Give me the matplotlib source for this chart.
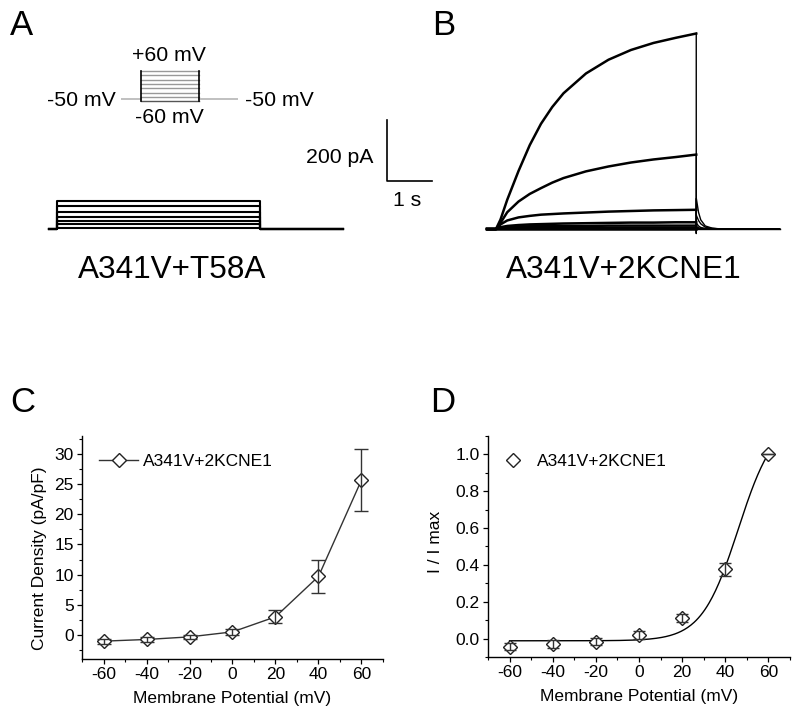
import numpy as np
import matplotlib
matplotlib.use('Agg')
import matplotlib.pyplot as plt
from matplotlib.ticker import MultipleLocator, FormatStrFormatter

plt.rcParams['font.family'] = ['Liberation Sans', 'DejaVu Sans']
plt.rcParams['axes.unicode_minus'] = False

# ---- data ----
# panel A (A341V+T58A): steady current at each step, pA
a_levels = [90, 73, 55, 38, 26, 15, 2]
a_times = [-0.17, 0.0, 4.5, 6.35]  # trace start, step on, step off, trace end (s)

# panel B (A341V+2KCNE1): activating currents, pA
b_step_t = [-0.2, 0.0, 0.1, 0.25, 0.5, 0.75, 1.0, 1.25, 1.5, 2.0, 2.5, 3.0, 3.5, 4.0, 4.45]
b_traces = [
    [0, 0, 31, 96, 190, 275, 345, 400, 445, 510, 555, 587, 610, 627, 641],
    [0, 0, 20, 55, 90, 115, 134, 152, 167, 189, 205, 218, 228, 236, 244],
    [0, 0, 15, 28, 38, 43, 47, 49, 51, 54, 57, 59, 61, 62, 63],
    [0, 0, 6, 10, 13, 15, 16, 17, 18, 19, 20, 21, 21, 22, 22],
    [0, 0, 4, 6, 8, 9, 9, 10, 10, 10, 11, 11, 11, 11, 11],
    [0, 0, 2, 3, 3, 4, 4, 4, 4, 4, 4, 4, 4, 4, 4],
    [0, 0, 0, 0, 0, 0, 0, 0, 0, 0, 0, 0, 0, 0, 0],
]
b_tail_t = [4.45, 4.452, 4.5, 4.55, 4.65, 4.8, 5.0, 6.3]
b_tails = [
    [-15, 100, 55, 30, 10, 3, 0, 0],
    [45, 45, 28, 17, 6, 2, 0, 0],
    [20, 20, 10, 5, 2, 0, 0, 0],
    [8, 8, 4, 2, 0, 0, 0, 0],
    [4, 4, 2, 1, 0, 0, 0, 0],
    [2, 2, 1, 0, 0, 0, 0, 0],
    [0, 0, 0, 0, 0, 0, 0, 0],
]

# voltage protocol (mV)
prot_levels = [-60, -43, -26, -9, 9, 26, 43, 60]
prot_hold = -50
prot_t = [0, 1, 4, 6]

# panels C and D
voltages = [-60, -40, -20, 0, 20, 40, 60]
density = [-1.04, -0.76, -0.33, 0.5, 3.0, 9.7, 25.7]
density_err = [0.4, 0.35, 0.35, 0.45, 1.1, 2.7, 5.1]
norm = [-0.043, -0.030, -0.016, 0.018, 0.11, 0.377, 1.0]
norm_err = [0.02, 0.02, 0.02, 0.022, 0.022, 0.035, 0.0]
# Boltzmann fit
fit_bottom, fit_top, fit_vhalf, fit_slope = -0.012, 1.2, 46.0, 8.5

label = 'A341V+2KCNE1'

W, H = 800, 720
PX_PER_S = 45.0
PX_PER_PA = 61.0 / 200.0


def fx(px):
    return px / W


def fy(py):
    return 1 - py / H


fig = plt.figure(figsize=(8, 7.2), dpi=100)

# ---- panel A traces ----
ax_a = fig.add_axes([0, 0.5, 440 / W, 0.5])
ax_a.set_xlim(-57 / PX_PER_S, (440 - 57) / PX_PER_S)
ax_a.set_ylim(-(360 - 228.5) / PX_PER_PA, 228.5 / PX_PER_PA)
ax_a.axis('off')
t0, t_on, t_off, t_end = a_times
for lev in a_levels:
    ax_a.plot([t0, t_on, t_on, t_off, t_off, t_end], [0, 0, lev, lev, 0, 0],
              color='black', lw=1.5)

# scale bar
sb_x = (387 - 57) / PX_PER_S
sb_y = (228.5 - 181) / PX_PER_PA
ax_a.plot([sb_x, sb_x, sb_x + 1], [sb_y + 200, sb_y, sb_y], color='black',
          lw=1.2, clip_on=False)

# ---- panel B traces ----
ax_b = fig.add_axes([440 / W, 0.5, 360 / W, 0.5])
ax_b.set_xlim(-56 / PX_PER_S, (800 - 496) / PX_PER_S)
ax_b.set_ylim(-(360 - 229) / PX_PER_PA, 229 / PX_PER_PA)
ax_b.axis('off')
for tr, tail in zip(b_traces, b_tails):
    ax_b.plot(b_step_t, tr, color='black', lw=1.8)
    ax_b.plot([b_step_t[-1]] + b_tail_t, [tr[-1]] + tail, color='black', lw=1.0)

# ---- voltage protocol inset ----
ax_p = fig.add_axes([fx(121), fy(105), (238 - 121) / W, 40 / H])
ax_p.set_xlim(prot_t[0], prot_t[-1])
ax_p.set_ylim(-76, 84)
ax_p.axis('off')
ax_p.plot(prot_t[:2], [prot_hold] * 2, color='#bbbbbb', lw=1.3)
ax_p.plot(prot_t[2:], [prot_hold] * 2, color='#bbbbbb', lw=1.3)
for i, lv in enumerate(prot_levels):
    c = '#555555' if i == 0 else '#999999'
    ax_p.plot(prot_t[1:3], [lv, lv], color=c, lw=1.0)
for tt in prot_t[1:3]:
    ax_p.plot([tt, tt], [prot_levels[0], prot_levels[-1]], color='black', lw=1.2)

# ---- text in top row ----
fs_small = 15.3
fig.text(fx(169), fy(60.7), '+60 mV', ha='center', va='baseline', fontsize=fs_small)
fig.text(fx(169), fy(123.3), '-60 mV', ha='center', va='baseline', fontsize=fs_small)
fig.text(fx(116), fy(105.5), '-50 mV', ha='right', va='baseline', fontsize=fs_small)
fig.text(fx(245), fy(105.5), '-50 mV', ha='left', va='baseline', fontsize=fs_small)
fig.text(fx(373), fy(162.7), '200 pA', ha='right', va='baseline', fontsize=fs_small)
fig.text(fx(407), fy(206), '1 s', ha='center', va='baseline', fontsize=fs_small)
fig.text(fx(172), fy(278.3), 'A341V+T58A', ha='center', va='baseline', fontsize=22.7)
fig.text(fx(624), fy(278.3), label, ha='center', va='baseline', fontsize=22.7)

for txt, x, y in [('A', 10, 35), ('B', 432, 35), ('C', 10, 412), ('D', 430, 412)]:
    fig.text(fx(x), fy(y), txt, ha='left', va='baseline', fontsize=25)


def style_axes(ax):
    ax.spines['top'].set_visible(False)
    ax.spines['right'].set_visible(False)
    ax.spines['left'].set_linewidth(1.0)
    ax.spines['bottom'].set_linewidth(1.0)
    ax.tick_params(which='major', direction='out', length=3.5, width=0.9,
                   labelsize=12.5, pad=2.5)
    ax.tick_params(which='minor', direction='out', length=2, width=0.8)
    ax.set_xlim(-70, 70)
    ax.xaxis.set_major_locator(MultipleLocator(20))
    ax.xaxis.set_minor_locator(MultipleLocator(10))
    ax.set_xlabel('Membrane Potential (mV)', fontsize=12.5, labelpad=6)


# ---- panel C ----
ax_c = fig.add_axes([fx(82), fy(659), (383 - 82) / W, (659 - 436) / H])
ax_c.plot(voltages, density, '-', color='#333333', lw=1.0, marker='D', ms=7.5,
          mfc='white', mec='#222222', mew=1.0, label=label, zorder=2)
ax_c.errorbar(voltages, density, yerr=density_err, fmt='none', ecolor='#333333',
              elinewidth=1.0, capsize=5, capthick=1.0, zorder=3)
style_axes(ax_c)
ax_c.set_ylim(-4, 33)
ax_c.yaxis.set_major_locator(MultipleLocator(5))
ax_c.yaxis.set_minor_locator(MultipleLocator(2.5))
ax_c.set_ylabel('Current Density (pA/pF)', fontsize=12.5)
ax_c.yaxis.set_label_coords(-0.116, 0.453)
ax_c.legend(loc='center left', bbox_to_anchor=(0.0565, 0.885), frameon=False,
            fontsize=12.5, handlelength=2.25, handletextpad=0.3,
            borderpad=0, borderaxespad=0)

# ---- panel D ----
ax_d = fig.add_axes([fx(488), fy(657), (790 - 488) / W, (657 - 436) / H])
v_fit = np.linspace(voltages[0], voltages[-1], 241)
i_fit = fit_top + (fit_bottom - fit_top) / (1 + np.exp((v_fit - fit_vhalf) / fit_slope))
ax_d.plot(v_fit, i_fit, color='black', lw=1.0, zorder=1)
ax_d.plot(voltages, norm, ls='none', marker='D', ms=7.5, mfc='white',
          mec='#222222', mew=1.0, label=label, zorder=2)
ax_d.errorbar(voltages, norm, yerr=norm_err, fmt='none', ecolor='#333333',
              elinewidth=1.0, capsize=4.5, capthick=1.0, zorder=3)
style_axes(ax_d)
ax_d.set_ylim(-0.1, 1.1)
ax_d.yaxis.set_major_locator(MultipleLocator(0.2))
ax_d.yaxis.set_minor_locator(MultipleLocator(0.1))
ax_d.yaxis.set_major_formatter(FormatStrFormatter('%.1f'))
ax_d.set_ylabel('I / I max', fontsize=12.5)
ax_d.yaxis.set_label_coords(-0.149, 0.52)
ax_d.legend(loc='center left', bbox_to_anchor=(0.036, 0.884), frameon=False,
            fontsize=12.5, handlelength=1.6, handletextpad=0.58, numpoints=1,
            borderpad=0, borderaxespad=0)

fig.savefig('out.png', dpi=100)
